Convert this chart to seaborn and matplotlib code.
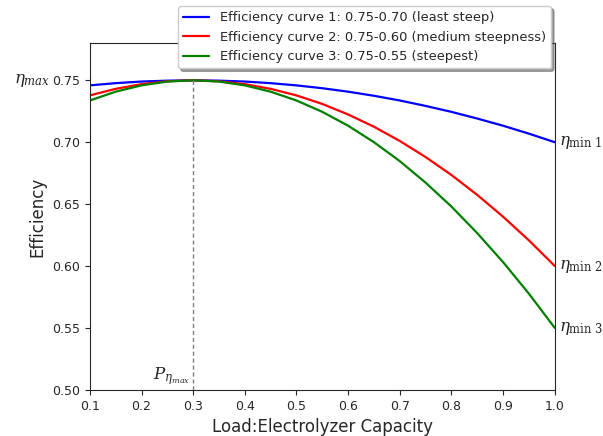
import numpy as np
import pandas as pd
import seaborn as sns
from matplotlib import pyplot as plt

# load fraction (x) and efficiency
load = [0.10, 0.15, 0.20, 0.25, 0.30, 0.35, 0.40, 0.45, 0.50, 0.55,
        0.60, 0.65, 0.70, 0.75, 0.80, 0.85, 0.90, 0.95, 1.00]
eff_curve1 = [0.7459, 0.7477, 0.7490, 0.7497, 0.7500, 0.7497, 0.7490, 0.7477, 0.7459, 0.7436,
              0.7408, 0.7375, 0.7337, 0.7293, 0.7245, 0.7191, 0.7133, 0.7069, 0.7000]
eff_curve2 = [0.7378, 0.7431, 0.7469, 0.7492, 0.7500, 0.7492, 0.7469, 0.7431, 0.7378, 0.7309,
              0.7224, 0.7125, 0.7010, 0.6880, 0.6735, 0.6574, 0.6398, 0.6207, 0.6000]
eff_curve3 = [0.7337, 0.7408, 0.7459, 0.7490, 0.7500, 0.7490, 0.7459, 0.7408, 0.7337, 0.7245,
              0.7133, 0.7000, 0.6847, 0.6673, 0.6480, 0.6265, 0.6031, 0.5776, 0.5500]
labels = ['Efficiency curve 1: 0.75-0.70 (least steep)',
          'Efficiency curve 2: 0.75-0.60 (medium steepness)',
          'Efficiency curve 3: 0.75-0.55 (steepest)']
colors = ['blue', 'red', 'green']
eta_max = 0.75
load_at_max = 0.3
eta_min = [0.70, 0.60, 0.55]
eta_min_labels = [r'$\eta_{\mathrm{min\ 1}}$', r'$\eta_{\mathrm{min\ 2}}$', r'$\eta_{\mathrm{min\ 3}}$']

sns.set_style("ticks")
plt.rcParams['mathtext.fontset'] = 'dejavuserif'

df = pd.DataFrame({'load': load * 3,
                   'eff': eff_curve1 + eff_curve2 + eff_curve3,
                   'curve': [labels[0]] * len(load) + [labels[1]] * len(load) + [labels[2]] * len(load)})

fig = plt.figure(figsize=(6.03, 4.36), dpi=100)
ax = fig.add_axes([0.149, 0.106, 0.771, 0.795])

sns.lineplot(data=df, x='load', y='eff', hue='curve', palette=colors, linewidth=1.6, ax=ax)

# dashed marker for the load at max efficiency
ax.plot([load_at_max, load_at_max], [0.5, eta_max], color='gray', linestyle='--', linewidth=1, dashes=(3, 2))

ax.set_xlim(0.1, 1.0)
ax.set_ylim(0.5, 0.78)
ax.set_xticks(np.arange(0.1, 1.01, 0.1))
ax.set_yticks(np.arange(0.5, 0.751, 0.05))
ax.set_xlabel('Load:Electrolyzer Capacity', fontsize=12)
ax.set_ylabel('Efficiency', fontsize=12)
ax.tick_params(labelsize=9)

ax.text(-0.085, eta_max, r'$\eta_{max}$', transform=ax.get_yaxis_transform(),
        ha='right', va='center', fontsize=12)
for val, lab in zip(eta_min, eta_min_labels):
    ax.text(1.01, val, lab, transform=ax.get_yaxis_transform(), ha='left', va='center', fontsize=12)
ax.text(load_at_max - 0.005, 0.502, r'$P_{\eta_{max}}$', ha='right', va='bottom', fontsize=12)

ax.legend(loc='upper left', bbox_to_anchor=(178 / 603, 1 - 6 / 436), bbox_transform=fig.transFigure,
          borderaxespad=0, shadow=True, fontsize=9.4, title=None, framealpha=1)

fig.savefig('out.png', dpi=100)
